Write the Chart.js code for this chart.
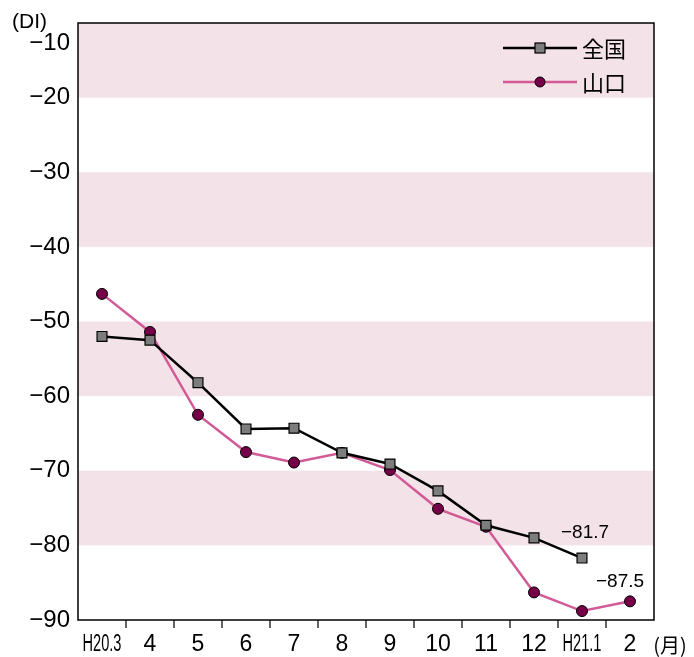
<!DOCTYPE html>
<html>
<head>
<meta charset="utf-8">
<script src="https://cdn.jsdelivr.net/npm/chart.js@4.4.1/dist/chart.umd.min.js"></script>
<style>
html,body{margin:0;padding:0;background:#fff;}
#wrap{width:694px;height:657px;}
</style>
</head>
<body>
<div id="wrap"><canvas id="c" width="694" height="657"></canvas></div>
<script>
const categories = ['H20.3','4','5','6','7','8','9','10','11','12','H21.1','2'];
const zenkoku   = [-52.0, -52.5, -58.2, -64.4, -64.3, -67.6, -69.1, -72.7, -77.3, -79.0, -81.7, null];
const yamaguchi = [-46.3, -51.4, -62.5, -67.5, -68.9, -67.6, -69.9, -75.1, -77.5, -86.3, -88.8, -87.5];
const seriesNames = ['全国', '山口'];
const yTicks = [-10, -20, -30, -40, -50, -60, -70, -80, -90];
const bands = [[-10, -20], [-30, -40], [-50, -60], [-70, -80]];
const yUnit = '(DI)';
const xUnit = '(月)';
const valueNotes = [
  {series: 0, index: 10, text: '−81.7'},
  {series: 1, index: 11, text: '−87.5'}
];

const NUM_FONT = '"Liberation Sans", Arial, sans-serif';
const CJK_FONT = '"Noto Sans CJK JP", "Noto Sans", sans-serif';

function minus(v){ return v < 0 ? '−' + Math.abs(v) : String(v); }

const drawPlugin = {
  id: 'drawPlugin',
  beforeDatasetsDraw(chart){
    const {ctx, chartArea: a, scales: {y}} = chart;
    ctx.save();
    ctx.fillStyle = 'rgb(244,226,233)';
    bands.forEach(([t, b]) => {
      const y1 = y.getPixelForValue(t), y2 = y.getPixelForValue(b);
      ctx.fillRect(a.left, y1, a.right - a.left, y2 - y1);
    });
    ctx.restore();
  },
  afterDatasetsDraw(chart){
    const {ctx, chartArea: a, scales: {x, y}} = chart;
    ctx.save();
    // frame
    ctx.strokeStyle = '#000';
    ctx.lineWidth = 1.5;
    ctx.strokeRect(a.left, a.top, a.right - a.left, a.bottom - a.top);
    // x tick marks between categories
    ctx.lineWidth = 1.2;
    for (let i = 0; i < categories.length - 1; i++) {
      const px = (x.getPixelForValue(i) + x.getPixelForValue(i + 1)) / 2;
      ctx.beginPath();
      ctx.moveTo(px, a.bottom);
      ctx.lineTo(px, a.bottom + 8);
      ctx.stroke();
    }
    // y labels
    ctx.fillStyle = '#000';
    ctx.textAlign = 'right';
    ctx.textBaseline = 'middle';
    ctx.font = '24px ' + NUM_FONT;
    yTicks.forEach(v => {
      let py = y.getPixelForValue(v);
      if (v === -10) py += 20;
      ctx.fillText(minus(v), 70, py);
    });
    ctx.font = '21px ' + NUM_FONT;
    ctx.textAlign = 'left';
    ctx.fillText(yUnit, 12, 22);
    // x labels
    ctx.textAlign = 'center';
    categories.forEach((c, i) => {
      const px = x.getPixelForValue(i);
      if (c.startsWith('H')) {
        ctx.font = '23px ' + NUM_FONT;
        ctx.fillText(c, px, 645, 39);
      } else {
        ctx.font = '23px ' + NUM_FONT;
        ctx.fillText(c, px, 645);
      }
    });
    ctx.font = '20px ' + CJK_FONT;
    ctx.fillText(xUnit, 670, 645);
    // value notes
    ctx.font = '19px ' + NUM_FONT;
    const notePos = [[585, 533], [620, 582]];
    valueNotes.forEach((n, k) => {
      ctx.fillText(n.text, notePos[k][0], notePos[k][1]);
    });
    // legend (in series order)
    const legendRows = [48, 82];
    seriesNames.forEach((name, k) => {
      const ds = chart.data.datasets.find(d => d.label === name);
      const ly = legendRows[k];
      ctx.strokeStyle = ds.borderColor;
      ctx.lineWidth = ds.borderWidth;
      ctx.beginPath();
      ctx.moveTo(503, ly);
      ctx.lineTo(577, ly);
      ctx.stroke();
      ctx.fillStyle = ds.pointBackgroundColor;
      ctx.strokeStyle = ds.pointBorderColor;
      ctx.lineWidth = ds.pointBorderWidth;
      if (ds.pointStyle === 'rect') {
        ctx.fillRect(535, ly - 5, 10, 10);
        ctx.strokeRect(535, ly - 5, 10, 10);
      } else {
        ctx.beginPath();
        ctx.arc(540, ly, 5, 0, Math.PI * 2);
        ctx.fill();
        ctx.stroke();
      }
      ctx.fillStyle = '#000';
      ctx.textAlign = 'left';
      ctx.font = '22px ' + CJK_FONT;
      ctx.fillText(ds.label, 582, ly + 1);
    });
    ctx.restore();
  }
};

new Chart(document.getElementById('c'), {
  type: 'line',
  data: {
    labels: categories,
    datasets: [
      {
        label: seriesNames[1],
        data: yamaguchi,
        borderColor: 'rgb(210,90,150)',
        borderWidth: 2.5,
        pointStyle: 'circle',
        pointRadius: 5.5,
        pointBackgroundColor: 'rgb(118,0,72)',
        pointBorderColor: '#000',
        pointBorderWidth: 1,
        tension: 0,
        order: 2
      },
      {
        label: seriesNames[0],
        data: zenkoku,
        borderColor: '#000',
        borderWidth: 2.5,
        pointStyle: 'rect',
        pointRadius: 7,
        pointBackgroundColor: 'rgb(125,125,125)',
        pointBorderColor: '#000',
        pointBorderWidth: 1.2,
        tension: 0,
        order: 1
      }
    ]
  },
  options: {
    responsive: false,
    animation: false,
    devicePixelRatio: 1,
    layout: {padding: {left: 78, top: 23, right: 40, bottom: 37}},
    plugins: {legend: {display: false}, tooltip: {enabled: false}},
    scales: {
      x: {display: false, offset: true},
      y: {display: false, min: -90, max: -10}
    }
  },
  plugins: [drawPlugin]
});
</script>
</body>
</html>
